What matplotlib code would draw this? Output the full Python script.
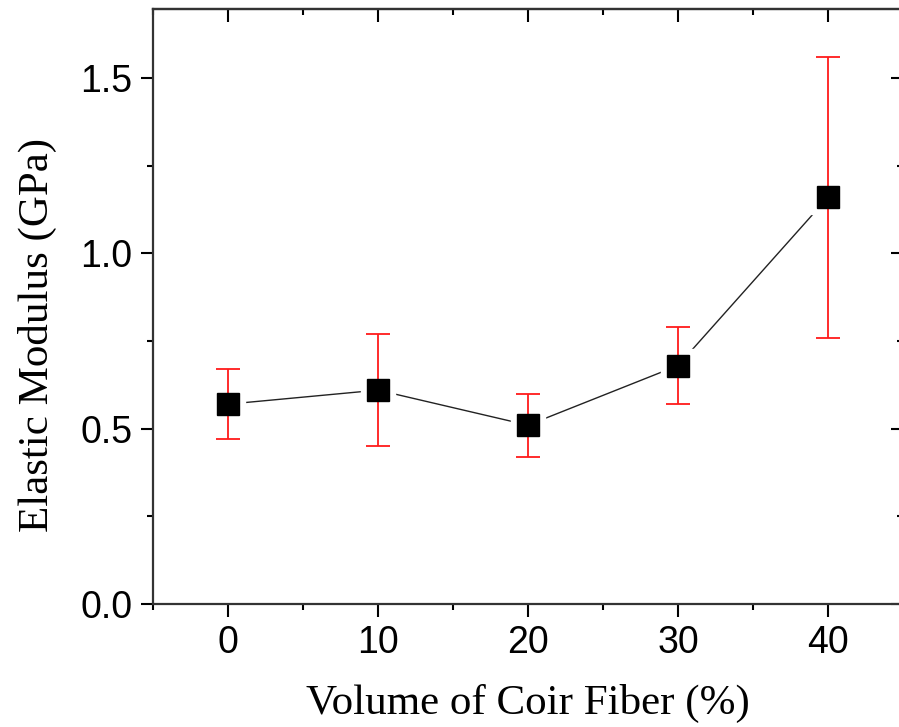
import matplotlib
matplotlib.use("Agg")
import matplotlib.pyplot as plt
from matplotlib.ticker import MultipleLocator

volume = [0, 10, 20, 30, 40]
modulus = [0.57, 0.61, 0.51, 0.68, 1.16]
err = [0.10, 0.16, 0.09, 0.11, 0.40]

fig = plt.figure(figsize=(8.99, 7.27), dpi=100)
ax = fig.add_axes([153/899, 1-604/727, 750/899, 595/727])

ax.plot(volume, modulus, color='#222222', lw=1.0, zorder=1)
ax.plot(volume, modulus, ls='none', marker='s', ms=24, mfc='white', mec='white', zorder=2)
ax.errorbar(volume, modulus, yerr=err, fmt='none', ecolor='#ff1a1a', elinewidth=1.3,
            capsize=8.5, capthick=1.3, zorder=3)
ax.plot(volume, modulus, ls='none', marker='s', ms=16.5, mfc='black', mec='black', zorder=4)

ax.set_xlim(-5, 45)
ax.set_ylim(0, 1.697)
ax.xaxis.set_major_locator(MultipleLocator(10))
ax.xaxis.set_minor_locator(MultipleLocator(5))
ax.yaxis.set_major_locator(MultipleLocator(0.5))
ax.yaxis.set_minor_locator(MultipleLocator(0.25))
ax.yaxis.set_major_formatter(matplotlib.ticker.FormatStrFormatter('%.1f'))

for s in ax.spines.values():
    s.set_linewidth(1.6)
    s.set_color('#333333')

ax.tick_params(axis='both', which='major', length=9, width=1.5, labelsize=27,
               direction='out', pad=6)
ax.tick_params(axis='both', which='minor', length=4, width=1.5, direction='out')
for lab in ax.get_xticklabels() + ax.get_yticklabels():
    lab.set_fontfamily('Liberation Sans')

# top / right inward ticks
axt = ax.secondary_xaxis('top')
axt.xaxis.set_major_locator(MultipleLocator(10))
axt.xaxis.set_minor_locator(MultipleLocator(5))
axt.tick_params(which='major', direction='in', length=9, width=1.5, labeltop=False)
axt.tick_params(which='minor', direction='in', length=4, width=1.5)
axt.spines['top'].set_linewidth(1.6)
axt.spines['top'].set_color('#333333')
axr = ax.secondary_yaxis('right')
axr.yaxis.set_major_locator(MultipleLocator(0.5))
axr.yaxis.set_minor_locator(MultipleLocator(0.25))
axr.tick_params(which='major', direction='in', length=9, width=1.5, labelright=False)
axr.tick_params(which='minor', direction='in', length=4, width=1.5)

ax.set_xlabel('Volume of Coir Fiber (%)', fontfamily='Liberation Serif', fontsize=31)
ax.set_ylabel('Elastic Modulus (GPa)', fontfamily='Liberation Serif', fontsize=31)
ax.xaxis.set_label_coords(0.5, -0.134)
ax.yaxis.set_label_coords(-0.128, 0.452)

fig.savefig('out.png', dpi=100)
